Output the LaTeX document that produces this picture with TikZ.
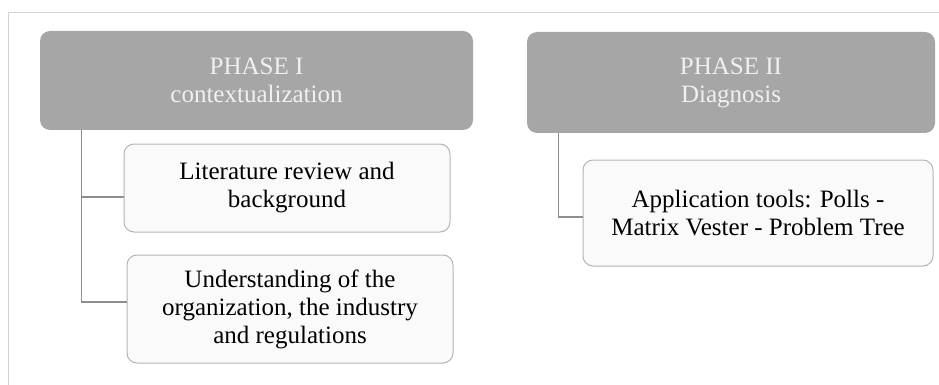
\documentclass[tikz,border=0pt]{standalone}
\usepackage{fontspec}
\setmainfont{Liberation Serif}
\definecolor{phasegray}{HTML}{A6A6A6}
\definecolor{edgegray}{HTML}{B4B4B4}
\definecolor{linkgray}{HTML}{8E8E8E}
\definecolor{framegray}{HTML}{D2D2D2}
\begin{document}
\begin{tikzpicture}[x=1pt, y=-1pt,
    phase/.style={rectangle, rounded corners=10pt, fill=phasegray, text=white!94!black,
        align=center, inner sep=0pt, font=\fontsize{25}{28}\selectfont},
    task/.style={rectangle, rounded corners=10pt, draw=edgegray, line width=1pt, fill=white!98!black,
        text=black, align=center, inner sep=0pt, font=\fontsize{25}{28}\selectfont},
    link/.style={draw=linkgray, line width=1.2pt}]

    \useasboundingbox (0, 0) rectangle (939, 385);

    % frame
    \draw [framegray, line width=1pt] (8, 385) -- (8, 13) -- (939, 13);

    % phases
    \node (p1) at (256.5, 80.5) [phase, minimum width=433pt, minimum height=99pt] {PHASE I\\contextualization};
    \node (p2) at (731, 82.5) [phase, minimum width=408pt, minimum height=101pt] {PHASE II\\Diagnosis};

    % phase I tasks
    \node (lit) at (287, 188) [task, minimum width=326pt, minimum height=88pt] {Literature review and\\background};
    \node (und) at (290, 309) [task, minimum width=326pt, minimum height=108pt] {Understanding of the\\organization, the industry\\and regulations};

    % phase II tasks
    \node (app) at (758, 213) [task, minimum width=350pt, minimum height=106pt] {Application tools: Polls -\\Matrix Vester - Problem Tree};

    % links
    \path (p1.south west) ++(42, 0) coordinate (trunk1);
    \path (p2.south west) ++(32, 0) coordinate (trunk2);
    \draw [link] (trunk1) |- ([yshift=-9pt]lit.west);
    \draw [link] (trunk1) |- ([yshift=7pt]und.west);
    \draw [link] (trunk2) |- ([yshift=-4pt]app.west);
\end{tikzpicture}
\end{document}
